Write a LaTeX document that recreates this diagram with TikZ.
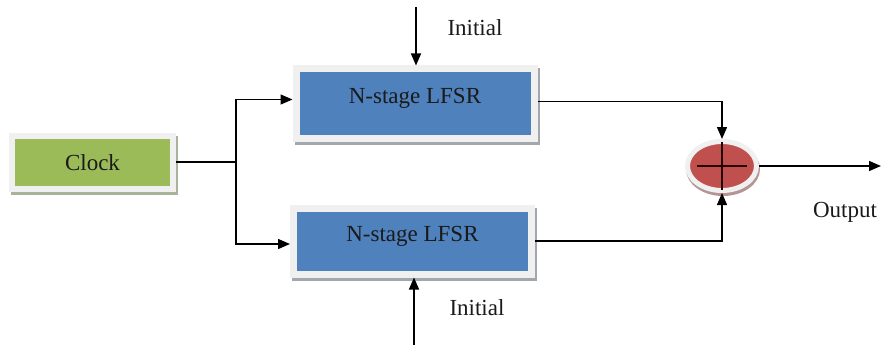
\documentclass[tikz,border=0pt]{standalone}
\usepackage{fontspec}
\setmainfont{Liberation Serif}
\usetikzlibrary{arrows.meta,shapes.geometric,shadows}
\definecolor{clkgreen}{HTML}{9BBB59}
\definecolor{lfsrblue}{HTML}{4F81BD}
\definecolor{xorred}{HTML}{C0504D}
\definecolor{rim}{HTML}{F0F0F0}
\definecolor{txt}{HTML}{1A1A1A}
\definecolor{blueshadow}{HTML}{A2A7AE}
\definecolor{greenshadow}{HTML}{A9B29B}
\definecolor{redshadow}{HTML}{B49494}
\tikzset{
  lbl/.style={font=\fontsize{23}{26}\selectfont, text=txt, inner sep=0pt},
  clockbox/.style={rectangle, fill=clkgreen, draw=rim, line width=6pt,
    minimum width=161pt, minimum height=53pt, inner sep=0pt,
    font=\fontsize{23}{26}\selectfont, text=txt,
    drop shadow={shadow xshift=2pt, shadow yshift=-3pt, fill=greenshadow, draw=greenshadow, opacity=1}},
  lfsrbox/.style={rectangle, fill=lfsrblue, draw=rim, line width=7pt,
    minimum width=238pt, inner sep=0pt,
    font=\fontsize{23}{26}\selectfont, text=txt,
    drop shadow={shadow xshift=2pt, shadow yshift=-3pt, fill=blueshadow, draw=blueshadow, opacity=1}},
  xorbox/.style={ellipse, fill=xorred, draw=rim, line width=5pt,
    minimum width=69pt, minimum height=49pt, inner sep=0pt,
    drop shadow={shadow xshift=1pt, shadow yshift=-3pt, fill=redshadow, draw=redshadow, opacity=1}},
  conn/.style={line width=1.4pt, draw=black},
  arr/.style={conn, -{Triangle[length=12pt,width=10pt]}},
}
\begin{document}
\begin{tikzpicture}[x=1pt,y=-1pt]
\useasboundingbox (0,0) rectangle (881,345);
\node[clockbox] (clk) at (92.5,162.5) {Clock};
\node[lfsrbox, text height=34pt, text depth=35pt] (top) at (415,103.5) {N-stage LFSR};
\node[lfsrbox, text height=33pt, text depth=33pt] (bot) at (412.5,241) {N-stage LFSR};
\node[xorbox] (x) at (722,166) {};
\draw[line width=1.6pt, draw=black!85!red] ([yshift=-3pt]x.north) -- ([yshift=3pt]x.south);
\draw[line width=1.6pt, draw=black!85!red] ([xshift=12pt]x.west) -- ([xshift=-12pt]x.east);
\coordinate (split) at (236,162);
\coordinate (intop) at (416,7);
\coordinate (inbot) at (414,345);
\coordinate (out) at (881,166);
\node[lbl] (itop) at (475,28) {Initial};
\node[lbl] (ibot) at (477,308) {Initial};
\node[lbl] (olbl) at (845,212) {Output};
\draw[conn] (clk.east |- split) -- (split);
\draw[arr] (split) |- ([yshift=4pt]top.west);
\draw[arr] (split) |- ([yshift=-3pt]bot.west);
\draw[arr] (intop) -- (intop |- top.north);
\draw[arr] (inbot) -- (inbot |- bot.south);
\draw[arr] ([yshift=2pt]top.east) -| (x.north);
\draw[arr] (bot.east) -| (x.south);
\draw[arr] (x.east) -- (out);
\end{tikzpicture}
\end{document}
